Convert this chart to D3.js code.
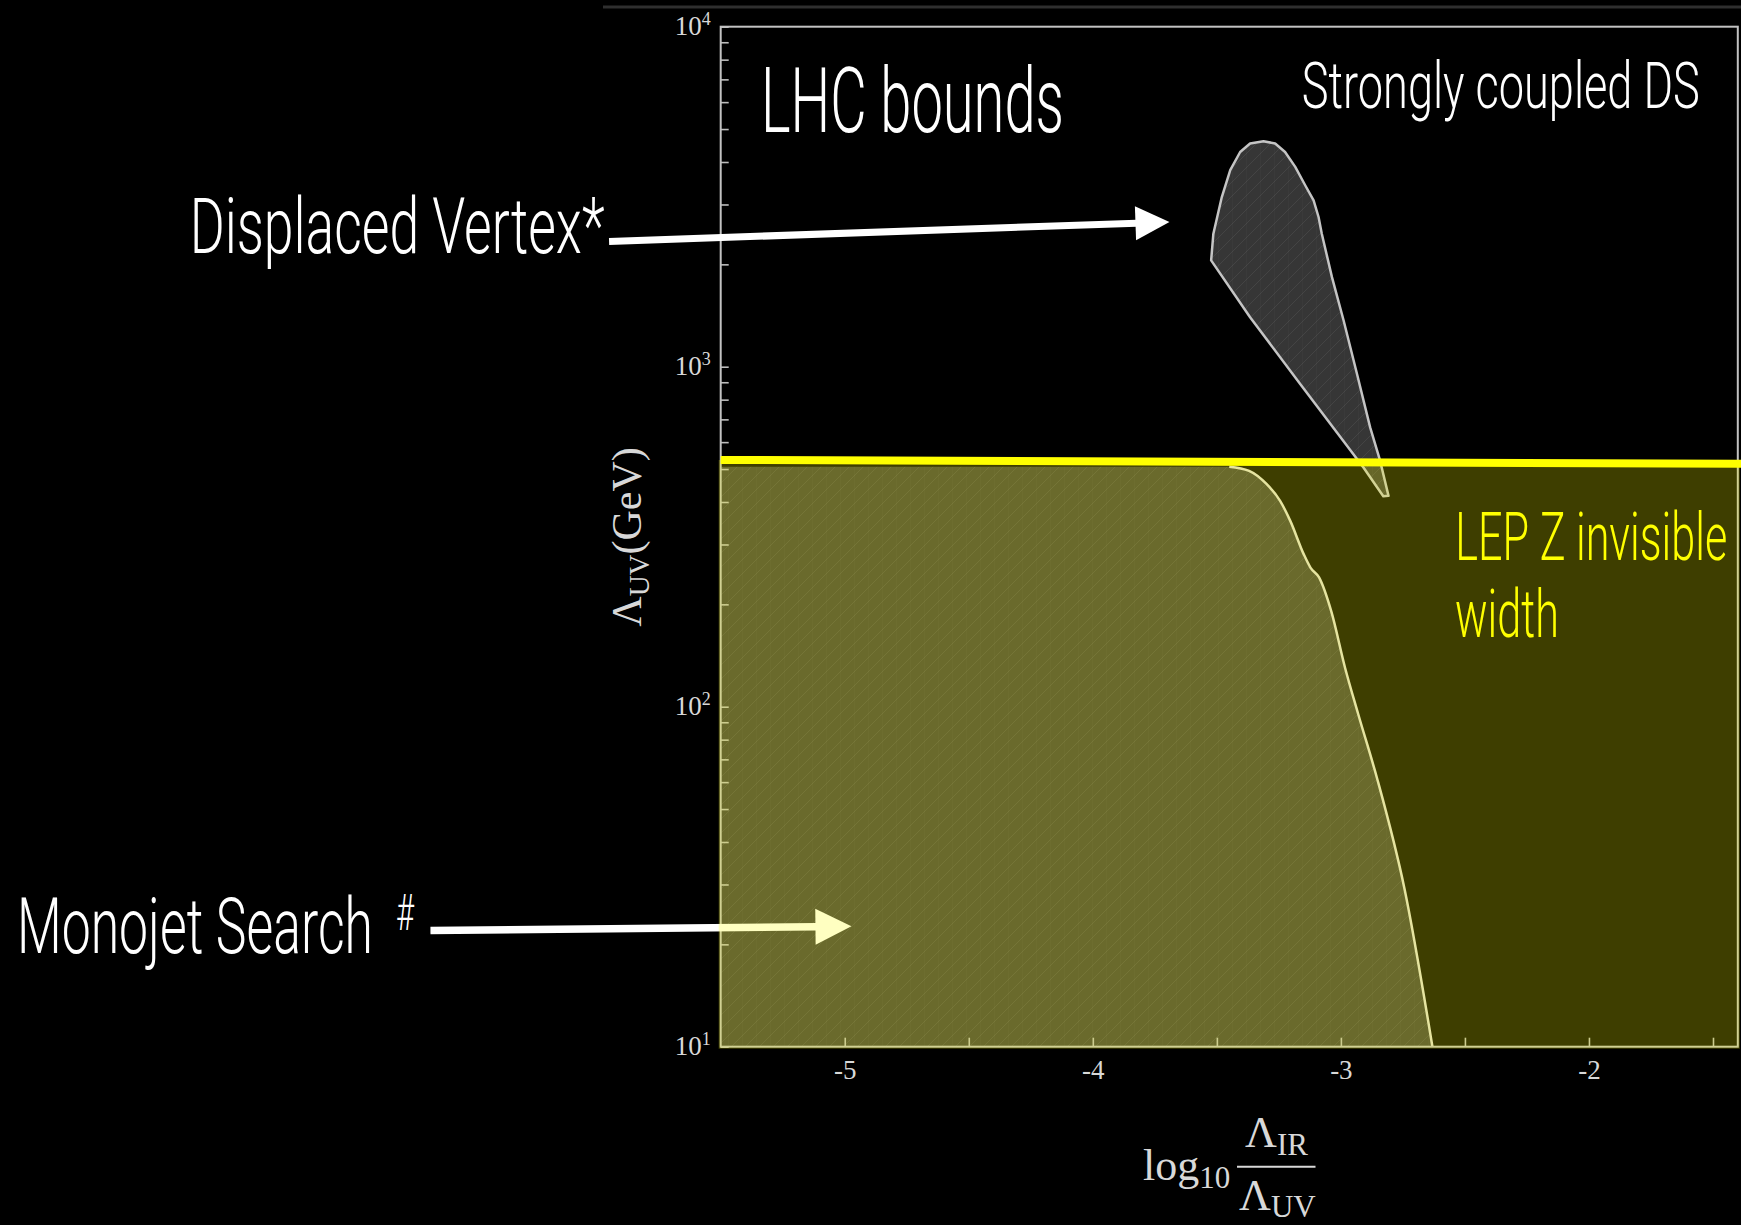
<!DOCTYPE html>
<html>
<head>
<meta charset="utf-8">
<script src="https://cdn.jsdelivr.net/npm/d3@7"></script>
<style>
    body { margin: 0; background: #000; }
    .anno { font-family: Roboto, "Liberation Sans Narrow", "DejaVu Sans", sans-serif; font-weight: 300; }
    .math { font-family: "Liberation Serif", "DejaVu Serif", serif; fill: #d8d8d8; }
</style>
</head>
<body>
<svg id="chart"></svg>
<script>
// axis ranges and ticks
const xDomain = [-5.5, -1.4];
const yDomain = [10, 10000];
const xTickValues = [-5, -4.5, -4, -3.5, -3, -2.5, -2, -1.5];
const xLabelTicks = [-5, -4, -3, -2];
const yMajorTicks = [10, 100, 1000, 10000];
const yMinorTicks = [20, 30, 40, 50, 60, 70, 80, 90,
    200, 300, 400, 500, 600, 700, 800, 900,
    2000, 3000, 4000, 5000, 6000, 7000, 8000, 9000];

// monojet search boundary (log10 ratio, GeV)
const monojetX = [-5.5, -3.45, -3.37, -3.30, -3.245, -3.204, -3.15, -3.122, -3.088, -3.039, -2.983, -2.93, -2.854, -2.743, -2.631];
const monojetY = [508, 508, 494, 452, 403, 352, 281, 256, 240, 191, 130, 95, 61.5, 29, 10];

// displaced vertex region (closed contour)
const dvX = [-3.523, -3.514, -3.480, -3.446, -3.406, -3.366, -3.312, -3.265, -3.225, -3.184, -3.144, -3.110, -3.090, -3.077,
    -3.036, -2.989, -2.935, -2.882, -2.842, -2.808, -2.829, -2.909, -3.164, -3.366];
const dvY = [2054, 2461, 3155, 3784, 4281, 4535, 4605, 4535, 4281, 3869, 3417, 3086, 2756, 2461,
    1834, 1367, 952, 663, 529, 417, 416, 505, 890, 1398];

// LEP Z invisible width bound
const lepX = [-5.5, -1.4];
const lepY = [532, 518];

// annotation arrows [x, GeV] start -> tip
const dvArrow = [[-5.95, 2336], [-3.691, 2664]];
const monoArrow = [[-6.67, 21.96], [-4.973, 22.6]];

const W = 1741, H = 1225;
const margin = { top: 26.7, right: 3.2, bottom: 178.3, left: 720.7 };

const svg = d3.select("#chart").attr("width", W).attr("height", H)
    .style("background", "#000");

const x = d3.scaleLinear().domain(xDomain).range([margin.left, W - margin.right]);
const y = d3.scaleLog().domain(yDomain).range([H - margin.bottom, margin.top]);

// hatch pattern seen on the filled regions
const defs = svg.append("defs");
const pat = defs.append("pattern").attr("id", "hatch")
    .attr("patternUnits", "userSpaceOnUse").attr("width", 14).attr("height", 14);
pat.append("path").attr("d", "M0,14 L14,0 M-3.5,3.5 L3.5,-3.5 M10.5,17.5 L17.5,10.5")
    .attr("stroke", "rgba(255,255,255,0.07)").attr("stroke-width", 1);
pat.append("path").attr("d", "M0,0 L0,14")
    .attr("stroke", "rgba(255,255,255,0.035)").attr("stroke-width", 1);
defs.append("clipPath").attr("id", "plotClip").append("rect")
    .attr("x", x(xDomain[0])).attr("y", y(yDomain[1]))
    .attr("width", x(xDomain[1]) - x(xDomain[0])).attr("height", y(yDomain[0]) - y(yDomain[1]));

// slide artefact line at top
svg.append("line").attr("x1", 603).attr("x2", W).attr("y1", 7).attr("y2", 7)
    .attr("stroke", "#2f2f2f").attr("stroke-width", 3);

const plot = svg.append("g").attr("clip-path", "url(#plotClip)");

// monojet region
const monoPts = monojetX.map((d, i) => [d, monojetY[i]]);
const monoArea = d3.area()
    .x(d => x(d[0])).y0(y(yDomain[0])).y1(d => y(d[1]))
    .curve(d3.curveMonotoneX);
plot.append("path").attr("d", monoArea(monoPts)).attr("fill", "rgba(255,255,255,0.23)");
plot.append("path").attr("d", monoArea(monoPts)).attr("fill", "url(#hatch)");
plot.append("path")
    .attr("d", d3.line().x(d => x(d[0])).y(d => y(d[1])).curve(d3.curveMonotoneX)(monoPts.slice(1)))
    .attr("fill", "none").attr("stroke", "#dedcd4").attr("stroke-width", 2.5);

// displaced vertex region
const dvPts = dvX.map((d, i) => [d, dvY[i]]);
const dvLine = d3.line().x(d => x(d[0])).y(d => y(d[1])).curve(d3.curveLinearClosed);
plot.append("path").attr("d", dvLine(dvPts)).attr("fill", "rgba(255,255,255,0.21)");
plot.append("path").attr("d", dvLine(dvPts)).attr("fill", "url(#hatch)");
plot.append("path").attr("d", dvLine(dvPts)).attr("fill", "none")
    .attr("stroke", "#c4c4c4").attr("stroke-width", 2.5).attr("stroke-linejoin", "round");

// axes (ticks point inward)
const xAxis = svg.append("g").attr("transform", `translate(0,${y(yDomain[0])})`)
    .call(d3.axisBottom(x).tickValues(xTickValues).tickSizeInner(-9).tickSizeOuter(0)
        .tickFormat(d => xLabelTicks.includes(d) ? String(d) : ""));
xAxis.select(".domain").remove();
xAxis.selectAll(".tick line").attr("stroke", "#bdbdbd").attr("stroke-width", 1.6);
xAxis.selectAll("text").attr("class", "math").attr("y", 32).attr("dy", 0)
    .style("font-size", "27px").attr("fill", "#d8d8d8");

const yAxis = svg.append("g").attr("transform", `translate(${x(xDomain[0])},0)`)
    .call(d3.axisLeft(y).tickValues(yMajorTicks.concat(yMinorTicks)).tickSizeInner(-8).tickSizeOuter(0).tickFormat(""));
yAxis.select(".domain").remove();
yAxis.selectAll(".tick line").attr("stroke", "#bdbdbd").attr("stroke-width", 1.6);

const yLabels = svg.append("g").selectAll("text").data(yMajorTicks).join("text")
    .attr("class", "math").attr("text-anchor", "end")
    .attr("x", x(xDomain[0]) - 10).attr("y", d => y(d) + 8)
    .style("font-size", "27px");
yLabels.append("tspan").text("10");
yLabels.append("tspan").attr("dy", -10).style("font-size", "18px").text(d => Math.round(Math.log10(d)));

// frame
svg.append("rect")
    .attr("x", x(xDomain[0])).attr("y", y(yDomain[1]))
    .attr("width", x(xDomain[1]) - x(xDomain[0])).attr("height", y(yDomain[0]) - y(yDomain[1]))
    .attr("fill", "none").attr("stroke", "#c2c2c2").attr("stroke-width", 2);

// arrows
function arrow(g, pts, width, headLen, headHalf) {
    const p0 = [x(pts[0][0]), y(pts[0][1])];
    const p1 = [x(pts[1][0]), y(pts[1][1])];
    const dx = p1[0] - p0[0], dy = p1[1] - p0[1];
    const len = Math.hypot(dx, dy);
    const ux = dx / len, uy = dy / len;
    const bx = p1[0] - ux * headLen, by = p1[1] - uy * headLen;
    g.append("line").attr("x1", p0[0]).attr("y1", p0[1]).attr("x2", bx + ux).attr("y2", by + uy)
        .attr("stroke", "#fff").attr("stroke-width", width);
    g.append("path")
        .attr("d", `M${p1[0]},${p1[1]}L${bx - uy * headHalf},${by + ux * headHalf}L${bx + uy * headHalf},${by - ux * headHalf}Z`)
        .attr("fill", "#fff");
}
arrow(svg.append("g"), monoArrow, 7.5, 36, 18);

// LEP overlay (semi transparent yellow) below the bound
const lx0 = x(lepX[0]) - 2, lx1 = x(lepX[1]) + 2;
svg.append("path")
    .attr("d", `M${lx0},${y(lepY[0])}L${lx1},${y(lepY[1])}L${lx1},${y(yDomain[0]) + 2}L${lx0},${y(yDomain[0]) + 2}Z`)
    .attr("fill", "rgba(255,255,0,0.245)");
svg.append("line")
    .attr("x1", x(lepX[0])).attr("y1", y(lepY[0]))
    .attr("x2", x(lepX[1]) + 4).attr("y2", y(lepY[1]))
    .attr("stroke", "#ffff00").attr("stroke-width", 8);

arrow(svg.append("g"), dvArrow, 7, 34, 17);

// annotation texts (condensed look: squeeze horizontally to the measured width)
const annoTexts = ["LHC bounds", "Strongly coupled DS", "Displaced Vertex*", "Monojet Search", "#", "LEP Z invisible", "width"];
const annoLayout = [
    { x: 761, y: 131.7, size: 91, len: 303, fill: "#fff" },
    { x: 1301.8, y: 108.3, size: 65, len: 398, fill: "#fff" },
    { x: 189.7, y: 252.7, size: 78, len: 415, fill: "#fff" },
    { x: 17, y: 952.7, size: 78, len: 356, fill: "#fff" },
    { x: 396, y: 930, size: 50, len: 18, fill: "#fff" },
    { x: 1455.3, y: 560, size: 67, len: 272, fill: "#ffff00" },
    { x: 1455, y: 636.7, size: 67, len: 104, fill: "#ffff00" }
];
svg.append("g").selectAll("text").data(annoTexts).join("text")
    .attr("class", "anno")
    .style("font-size", (d, i) => annoLayout[i].size + "px")
    .attr("fill", (d, i) => annoLayout[i].fill)
    .text(d => d)
    .each(function (d, i) {
        const l = annoLayout[i];
        const natural = this.getComputedTextLength();
        d3.select(this).attr("transform", `translate(${l.x},${l.y}) scale(${l.len / natural},1)`);
    });

// y axis title
const yt = svg.append("text").attr("class", "math")
    .attr("transform", "translate(641,537) rotate(-90)")
    .attr("text-anchor", "middle").style("font-size", "42px");
yt.append("tspan").text("Λ");
yt.append("tspan").attr("dy", 8).style("font-size", "29px").text("UV");
yt.append("tspan").attr("dy", -8).text("(GeV)");

// x axis title: log10 (Λ_IR / Λ_UV)
const xt = svg.append("g");
const logT = xt.append("text").attr("class", "math").attr("x", 1143).attr("y", 1180).style("font-size", "44px");
logT.append("tspan").text("log");
logT.append("tspan").attr("dy", 8).style("font-size", "31px").text("10");
xt.append("line").attr("x1", 1237).attr("x2", 1315.5).attr("y1", 1166.7).attr("y2", 1166.7)
    .attr("stroke", "#d8d8d8").attr("stroke-width", 2);
const num = xt.append("text").attr("class", "math").attr("x", 1245).attr("y", 1146.7).style("font-size", "44px");
num.append("tspan").text("Λ");
num.append("tspan").attr("dy", 8).style("font-size", "31px").text("IR");
const den = xt.append("text").attr("class", "math").attr("x", 1239).attr("y", 1210).style("font-size", "44px");
den.append("tspan").text("Λ");
den.append("tspan").attr("dy", 7).style("font-size", "31px").text("UV");
</script>
</body>
</html>
